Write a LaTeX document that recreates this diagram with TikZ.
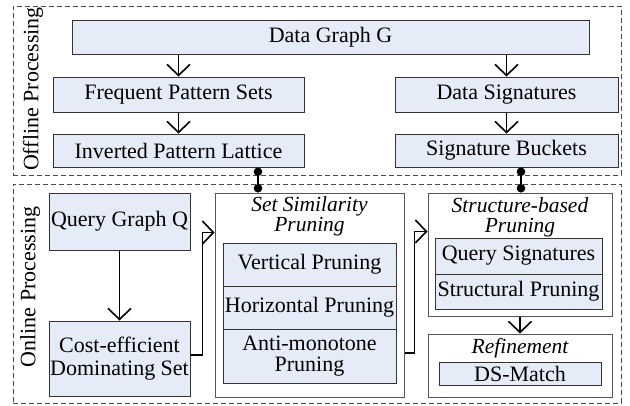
\documentclass[tikz,border=0pt]{standalone}
\usepackage{fontspec}
\setmainfont{Liberation Serif}
\usetikzlibrary{arrows.meta,calc}
\definecolor{boxfill}{HTML}{E6ECF7}
\definecolor{boxline}{HTML}{333333}
\definecolor{outline}{HTML}{555555}
\definecolor{dashcol}{HTML}{4A4A4A}
\begin{document}
\begin{tikzpicture}[x=1pt,y=-1pt,
  txt/.style={font=\fontsize{22}{23}\selectfont},
  blbox/.style={txt,draw=boxline,line width=1pt,fill=boxfill,inner sep=0pt,align=center},
  wbox/.style={draw=outline,line width=1pt,fill=white,inner sep=0pt},
  region/.style={draw=dashcol,line width=0.9pt,dash pattern=on 5pt off 3pt,inner sep=0pt},
  ttl/.style={font=\fontsize{21.5}{20}\selectfont\itshape,align=center,inner sep=0pt},
  lbl/.style={font=\fontsize{22}{23}\selectfont,rotate=90,inner sep=0pt},
  arr/.style={line width=1.6pt,-{Straight Barb[length=11pt,width=23pt,line width=1.6pt]}},
  dotline/.style={line width=1.6pt,{Circle[length=8.5pt]}-{Circle[length=8.5pt]}}]
\useasboundingbox (0,0) rectangle (630,405);
% regions
\node[region,minimum width=608pt,minimum height=169pt] (off) at (317,90.5) {};
\node[region,minimum width=608pt,minimum height=219pt] (on) at (317,293.5) {};
\node[lbl] (offl) at (33,89) {Offline Processing};
\node[lbl] (onl) at (30,287) {Online Processing};
% offline boxes
\node[blbox,minimum width=517pt,minimum height=34pt] (dg) at (330.5,37) {Data Graph G};
\node[blbox,minimum width=251pt,minimum height=35pt] (fps) at (178.5,94.5) {Frequent Pattern Sets};
\node[blbox,minimum width=251pt,minimum height=33pt] (ipl) at (178.5,150.5) {Inverted Pattern Lattice};
\node[blbox,minimum width=223pt,minimum height=35pt] (ds) at (506.5,94.5) {Data Signatures};
\node[blbox,minimum width=223pt,minimum height=33pt] (sb) at (506.5,150.5) {Signature Buckets};
% online boxes
\node[blbox,minimum width=141pt,minimum height=57pt] (qg) at (119.5,221.5) {Query Graph Q};
\node[blbox,minimum width=141pt,minimum height=75pt,font=\fontsize{22}{23}\selectfont] (ce) at (119.5,358.5) {Cost-efficient\\Dominating Set};
\node[wbox,minimum width=189pt,minimum height=204pt] (ss) at (309.5,295) {};
\node[ttl] (sst) at (309.5,216) {Set Similarity\\Pruning};
\node[blbox,minimum width=173pt,minimum height=43pt] (vp) at (309.5,264.5) {Vertical Pruning};
\node[blbox,minimum width=173pt,minimum height=43pt] (hp) at (309.5,307.5) {Horizontal Pruning};
\node[blbox,minimum width=173pt,minimum height=54pt,font=\fontsize{22}{21}\selectfont] (ap) at (309.5,356) {Anti-monotone\\Pruning};
\node[wbox,minimum width=184pt,minimum height=123pt] (sp) at (520,254.5) {};
\node[ttl] (spt) at (520,217) {Structure-based\\Pruning};
\node[blbox,minimum width=167pt,minimum height=36pt] (qs) at (518.5,256) {Query Signatures};
\node[blbox,minimum width=167pt,minimum height=35pt] (stp) at (518.5,291.5) {Structural Pruning};
\node[wbox,minimum width=184pt,minimum height=63pt] (rf) at (520,365.5) {};
\node[ttl] (rft) at (520,348) {Refinement};
\node[blbox,minimum width=162pt,minimum height=23pt] (dm) at (520,373.5) {DS-Match};
% connectors
\draw[arr] (dg.south -| fps.north) -- (fps.north);
\draw[arr] (dg.south -| ds.north) -- (ds.north);
\draw[arr] (fps) -- (ipl);
\draw[arr] (ds) -- (sb);
\coordinate (c1) at (258,0);
\coordinate (c2) at (521,0);
\draw[dotline] (ipl.south -| c1) -- (ss.north -| c1);
\draw[dotline] (sb.south -| c2) -- (sp.north -| c2);
\draw[arr] (qg) -- (ce);
\draw[arr] ([yshift=3.5pt]ce.east) -- ++(12,0) |- ([yshift=-40pt]ss.north west);
\draw[arr] ([yshift=-58pt]ss.east) -- ++(10,0) |- ([yshift=-39pt]sp.north west);
\draw[arr] (sp.south) -- (rf.north);
\end{tikzpicture}
\end{document}
